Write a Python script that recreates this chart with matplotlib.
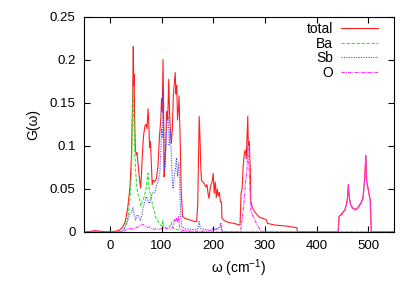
import numpy as np
import matplotlib
matplotlib.use("Agg")
import matplotlib.pyplot as plt
from matplotlib.ticker import FixedLocator, FixedFormatter

plt.rcParams['font.family'] = ['Liberation Sans', 'DejaVu Sans']
plt.rcParams['mathtext.fontset'] = 'custom'
plt.rcParams['mathtext.rm'] = 'Liberation Sans'
plt.rcParams['mathtext.it'] = 'Liberation Sans:italic'

# phonon DOS
w_total = [-50, -40, -30, -20, -10, 0, 10, 18, 24, 30, 35, 39, 42, 44, 45.4, 46.2, 47, 48, 49.5, 51,
           52.5, 54, 56, 58, 59.6, 61, 63, 65, 67.5, 70, 72, 74, 75.5, 77, 78.5, 80, 82, 84, 87, 90,
           93, 96, 98.6, 100, 101.5, 103, 104, 105, 106.5, 108, 110, 112, 114, 115.5, 117, 119, 121, 123, 124.5, 126.5,
           128, 129.5, 131, 132.5, 134, 136, 138, 140.7, 145, 150, 155, 160, 165, 168, 170, 172, 173, 174.5, 176, 177.5,
           180, 183, 186, 188, 190, 192, 194, 196, 198, 200, 202, 204, 206, 208, 210, 212, 214, 216, 217, 222,
           230, 240, 252, 254, 256, 258, 260, 262, 264, 266, 267, 268, 270, 271, 272, 273, 276, 280, 285, 290,
           300, 303, 305, 320, 340, 362, 363, 442, 443.5, 450, 455, 458, 460, 461.7, 463, 466, 470, 476, 482, 487,
           490, 493, 495.5, 497, 500, 504, 505, 506, 550]
g_total = [0.0, 0.0005, 0.0015, 0.001, 0.0003, 0.0002, 0.0008, 0.002, 0.005, 0.012, 0.030, 0.052, 0.09, 0.15, 0.215, 0.17, 0.183, 0.13, 0.095, 0.09,
           0.092, 0.082, 0.07, 0.058, 0.051, 0.065, 0.09, 0.11, 0.122, 0.125, 0.12, 0.143, 0.125, 0.098, 0.105, 0.085, 0.055, 0.06, 0.058, 0.062,
           0.075, 0.11, 0.13, 0.155, 0.14, 0.2, 0.15, 0.064, 0.075, 0.1, 0.14, 0.13, 0.177, 0.14, 0.12, 0.103, 0.12, 0.16, 0.17, 0.185,
           0.16, 0.17, 0.13, 0.14, 0.158, 0.11, 0.05, 0.018, 0.016, 0.015, 0.014, 0.013, 0.012, 0.012, 0.03, 0.1, 0.134, 0.11, 0.075, 0.06,
           0.058, 0.056, 0.052, 0.055, 0.045, 0.039, 0.05, 0.055, 0.058, 0.068, 0.045, 0.058, 0.04, 0.05, 0.042, 0.046, 0.035, 0.035, 0.016, 0.013,
           0.011, 0.010, 0.008, 0.045, 0.05, 0.075, 0.09, 0.095, 0.085, 0.12, 0.134, 0.1, 0.105, 0.085, 0.07, 0.035, 0.028, 0.024, 0.02, 0.017,
           0.015, 0.014, 0.01, 0.008, 0.007, 0.005, 0.0, 0.0, 0.018, 0.022, 0.026, 0.032, 0.04, 0.055, 0.042, 0.032, 0.028, 0.026, 0.03, 0.035,
           0.04, 0.06, 0.089, 0.06, 0.05, 0.037, 0.02, 0.0, 0.0]

w_ba = [-50, 20, 25, 30, 35, 39.5, 42, 43, 44.5, 45.4, 46.5, 48, 50, 52, 54, 57.7, 60, 63, 66, 70,
        72, 74, 76, 78, 80, 83, 86, 90, 94, 98, 101, 102.5, 104, 108, 112, 116, 119, 121, 125, 130,
        135, 140, 550]
g_ba = [0, 0, 0.002, 0.006, 0.018, 0.041, 0.07, 0.107, 0.15, 0.165, 0.13, 0.1, 0.07, 0.055, 0.045, 0.038, 0.03, 0.035, 0.04, 0.05,
        0.06, 0.068, 0.05, 0.045, 0.04, 0.03, 0.025, 0.014, 0.012, 0.008, 0.007, 0.013, 0.006, 0.005, 0.004, 0.006, 0.011, 0.005, 0.004, 0.003,
        0.002, 0.0, 0]

w_sb = [-50, 22, 28, 33, 38, 41, 44.7, 47, 50, 53, 56, 59, 62, 65, 68, 70.7, 73, 76, 79, 82,
        85, 88, 91, 94, 96.6, 98.5, 100, 101.5, 103, 104, 105.5, 107, 109, 111, 113, 115, 117, 119, 121, 122.6,
        124, 127, 129, 131, 133.6, 135.5, 137, 139, 145, 155, 165, 170, 173, 175, 185, 195, 200, 205, 210, 215,
        217, 550]
g_sb = [0, 0, 0.004, 0.01, 0.02, 0.022, 0.028, 0.02, 0.014, 0.02, 0.018, 0.013, 0.02, 0.03, 0.035, 0.041, 0.038, 0.033, 0.038, 0.045,
        0.045, 0.048, 0.055, 0.06, 0.068, 0.09, 0.12, 0.11, 0.165, 0.12, 0.07, 0.08, 0.1, 0.13, 0.134, 0.1, 0.119, 0.09, 0.06, 0.05,
        0.06, 0.074, 0.086, 0.065, 0.08, 0.05, 0.02, 0.006, 0.004, 0.003, 0.003, 0.004, 0.012, 0.004, 0.003, 0.002, 0.004, 0.003, 0.005, 0.006,
        0.0, 0]

w_o = [-50, 25, 30, 35, 40, 45, 50, 55, 60, 64, 68, 72, 76, 80, 85, 90, 95, 100, 105, 110,
       115, 120, 123, 125, 127, 129, 131, 133, 135, 140, 150, 170, 190, 200, 205, 210, 213, 215, 217, 219,
       253, 255, 257, 259, 261, 263, 265, 266, 267, 268, 270, 271, 273, 276, 280, 285, 290, 294, 442, 443.5,
       450, 455, 458, 460, 461.7, 463, 466, 470, 476, 482, 487, 490, 493, 495.5, 497, 500, 504, 505, 506, 550]
g_o = [0, 0, 0.002, 0.004, 0.004, 0.003, 0.005, 0.006, 0.008, 0.009, 0.007, 0.005, 0.006, 0.004, 0.003, 0.004, 0.003, 0.004, 0.005, 0.004,
       0.003, 0.004, 0.008, 0.015, 0.012, 0.016, 0.012, 0.018, 0.004, 0.002, 0.001, 0.001, 0.001, 0.002, 0.003, 0.004, 0.006, 0.011, 0.003, 0.0,
       0, 0.01, 0.02, 0.03, 0.045, 0.06, 0.07, 0.08, 0.1, 0.085, 0.07, 0.05, 0.025, 0.02, 0.015, 0.008, 0.004, 0.0, 0, 0.017,
       0.021, 0.025, 0.031, 0.039, 0.054, 0.041, 0.031, 0.027, 0.025, 0.029, 0.034, 0.039, 0.059, 0.088, 0.059, 0.049, 0.036, 0.019, 0, 0]

x_ticks = [0, 100, 200, 300, 400, 500]
y_ticks = [0, 0.05, 0.1, 0.15, 0.2, 0.25]
y_ticklabels = ['0', '0.05', '0.1', '0.15', '0.2', '0.25']

fig = plt.figure(figsize=(4.15, 2.91), dpi=100)
ax = fig.add_axes([84/415, 1-232/291, 310/415, 215.5/291])

ax.plot(w_total, g_total, color='#ff2020', lw=0.8, label='total')
ax.plot(w_ba, g_ba, color='#30e830', lw=0.8, ls=(0, (3, 1.5)), label='Ba')
ax.plot(w_sb, g_sb, color='#4848ff', lw=0.8, ls=(0, (1, 1.2)), label='Sb')
ax.plot(w_o, g_o, color='#ff30ff', lw=0.8, ls=(0, (3, 1, 1, 1)), label='O')

ax.set_xlim(-50, 550)
ax.set_ylim(0, 0.25)
ax.xaxis.set_major_locator(FixedLocator(x_ticks))
ax.yaxis.set_major_locator(FixedLocator(y_ticks))
ax.yaxis.set_major_formatter(FixedFormatter(y_ticklabels))
ax.tick_params(direction='in', top=True, right=True, length=4, width=0.8,
               labelsize=9.5, pad=6)
for s in ax.spines.values():
    s.set_linewidth(0.8)

ax.set_xlabel(r'ω (cm$^{-1}$)', fontsize=10, labelpad=4)
ax.set_ylabel('G(ω)', fontsize=10, labelpad=7)

ax.legend(loc='upper right', bbox_to_anchor=(0.947, 0.9745), markerfirst=False,
          frameon=False, fontsize=10, handlelength=2.66, handletextpad=0.55,
          labelspacing=0.04, borderpad=0, borderaxespad=0)

fig.savefig('out.png', dpi=100)
